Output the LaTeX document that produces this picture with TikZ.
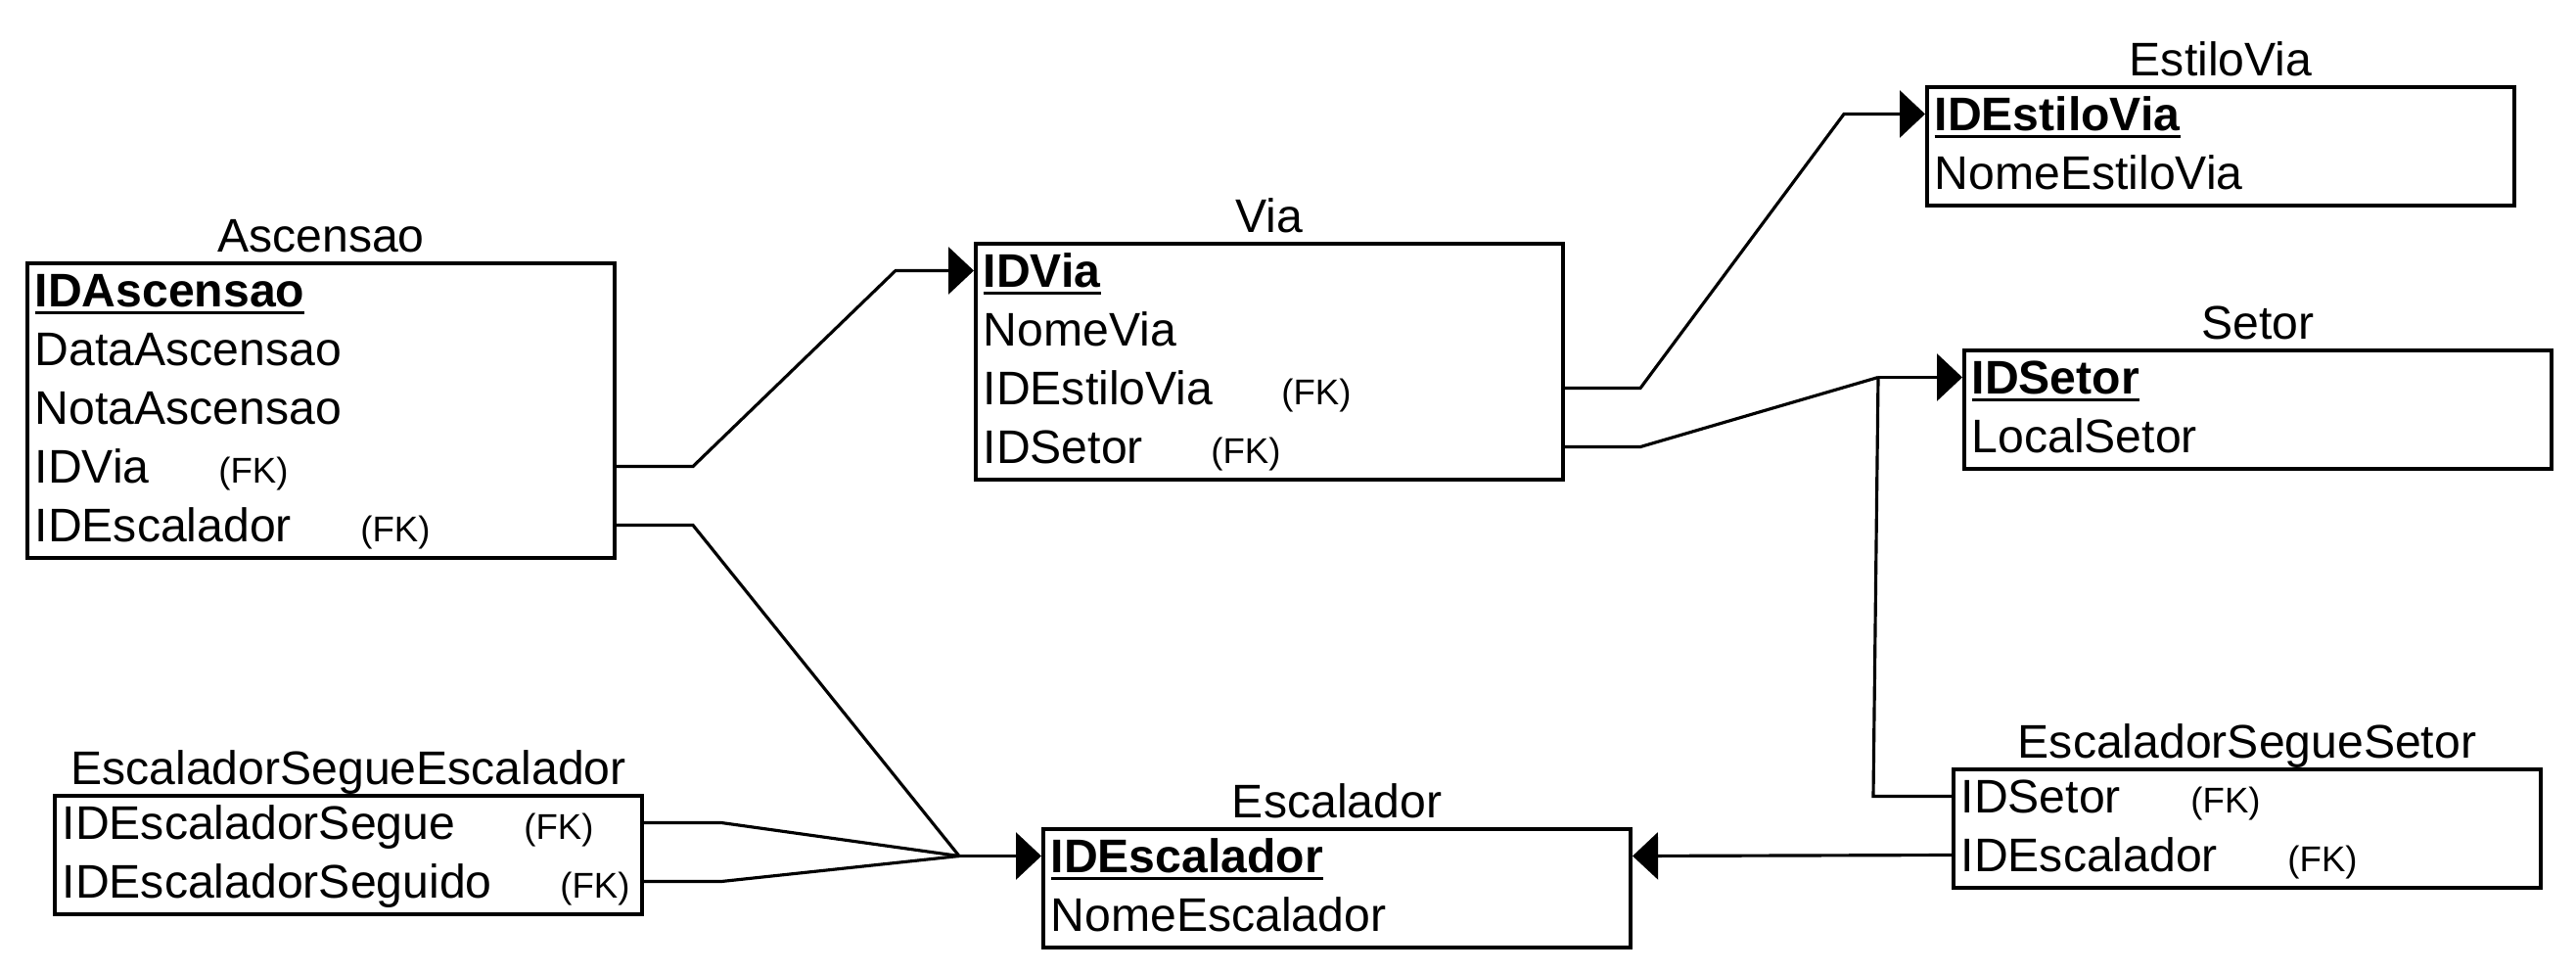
\documentclass[tikz,border=0pt]{standalone}
\usepackage{fontspec}
\setmainfont{Liberation Sans}
\usetikzlibrary{arrows.meta}

\tikzset{
  tbl/.style={draw,line width=1.15pt,anchor=north west,minimum width=6cm,inner sep=0pt},
  ttl/.style={anchor=base,inner sep=0pt,font=\fontsize{13.7}{16}\selectfont},
  fld/.style={anchor=base west,inner sep=0pt,text height=0.34cm,text depth=0cm,font=\fontsize{13.7}{16}\selectfont},
  fk/.style={anchor=base,inner sep=0pt,font=\fontsize{10.4}{12}\selectfont},
  rel/.style={line width=0.9pt},
  to1/.style={rel,-{Triangle[length=0.26cm,width=0.48cm]}}
}
% primary key: bold, underlined
\newcommand{\pkey}[1]{\sbox0{\textbf{#1}}\rlap{\rule[-2.1pt]{\wd0}{0.8pt}}\usebox0}

\begin{document}
\begin{tikzpicture}%[x=1.0cm,y=1.0cm]
\useasboundingbox (0.02,-0.015) rectangle (26.34,-9.945);
% Ascensao
\node[tbl,minimum height=3.01cm] (asc) at (0.28,-2.68) {};
\node[ttl] (ascT) at ([yshift=0.09cm]asc.north) {Ascensao};
\node[fld] (ascId) at (0.37,-3.15) {\pkey{IDAscensao}};
\node[fld] (ascData) at (0.37,-3.75) {DataAscensao};
\node[fld] (ascNota) at (0.37,-4.35) {NotaAscensao};
\node[fld] (ascVia) at (0.37,-4.95) {IDVia};
\node[fld] (ascEsc) at (0.37,-5.55) {IDEscalador};
\node[fk] (ascViaFk) at (2.61,-4.95) {(FK)};
\node[fk] (ascEscFk) at (4.06,-5.55) {(FK)};
% Via
\node[tbl,minimum height=2.41cm] (via) at (9.97,-2.48) {};
\node[ttl] (viaT) at ([yshift=0.09cm]via.north) {Via};
\node[fld] (viaId) at (10.06,-2.95) {\pkey{IDVia}};
\node[fld] (viaNome) at (10.06,-3.55) {NomeVia};
\node[fld] (viaEst) at (10.06,-4.15) {IDEstiloVia};
\node[fld] (viaSet) at (10.06,-4.75) {IDSetor};
\node[fk] (viaEstFk) at (13.47,-4.15) {(FK)};
\node[fk] (viaSetFk) at (12.75,-4.75) {(FK)};
% EstiloVia
\node[tbl,minimum height=1.21cm] (estilo) at (19.69,-0.88) {};
\node[ttl] (estiloT) at ([yshift=0.09cm]estilo.north) {EstiloVia};
\node[fld] (estiloId) at (19.78,-1.35) {\pkey{IDEstiloVia}};
\node[fld] (estiloNome) at (19.78,-1.95) {NomeEstiloVia};
% Setor
\node[tbl,minimum height=1.21cm] (setor) at (20.07,-3.57) {};
\node[ttl] (setorT) at ([yshift=0.09cm]setor.north) {Setor};
\node[fld] (setorId) at (20.16,-4.04) {\pkey{IDSetor}};
\node[fld] (setorLocal) at (20.16,-4.64) {LocalSetor};
% Escalador
\node[tbl,minimum height=1.21cm] (esc) at (10.66,-8.46) {};
\node[ttl] (escT) at ([yshift=0.09cm]esc.north) {Escalador};
\node[fld] (escId) at (10.75,-8.93) {\pkey{IDEscalador}};
\node[fld] (escNome) at (10.75,-9.53) {NomeEscalador};
% EscaladorSegueEscalador
\node[tbl,minimum height=1.21cm] (ese) at (0.56,-8.12) {};
\node[ttl] (eseT) at ([yshift=0.09cm]ese.north) {EscaladorSegueEscalador};
\node[fld] (eseA) at (0.65,-8.59) {IDEscaladorSegue};
\node[fld] (eseB) at (0.65,-9.19) {IDEscaladorSeguido};
\node[fk] (eseAFk) at (5.73,-8.59) {(FK)};
\node[fk] (eseBFk) at (6.10,-9.19) {(FK)};
% EscaladorSegueSetor
\node[tbl,minimum height=1.21cm] (ess) at (19.96,-7.85) {};
\node[ttl] (essT) at ([yshift=0.09cm]ess.north) {EscaladorSegueSetor};
\node[fld] (essSet) at (20.05,-8.32) {IDSetor};
\node[fld] (essEsc) at (20.05,-8.92) {IDEscalador};
\node[fk] (essSetFk) at (22.76,-8.32) {(FK)};
\node[fk] (essEscFk) at (23.75,-8.92) {(FK)};

% relations
\coordinate (jE) at ([xshift=-0.84cm]escId -| esc.west);
\coordinate (jS) at ([xshift=-0.86cm]setorId -| setor.west);
\draw[to1] (ascVia -| asc.east) -- ++(0.78,0) -- ([xshift=-0.8cm]viaId -| via.west) -- (viaId -| via.west);
\draw[rel] (ascEsc -| asc.east) -- ++(0.78,0) -- (jE);
\draw[rel] (eseA -| ese.east) -- ++(0.79,0) -- (jE);
\draw[rel] (eseB -| ese.east) -- ++(0.79,0) -- (jE);
\draw[to1] (jE) -- (escId -| esc.west);
\draw[to1] (viaEst -| via.east) -- ++(0.77,0) -- ([xshift=-0.83cm]estiloId -| estilo.west) -- (estiloId -| estilo.west);
\draw[rel] (viaSet -| via.east) -- ++(0.77,0) -- (jS);
\draw[rel] (essSet -| ess.west) -- ++(-0.8,0) -- (jS);
\draw[to1] (jS) -- (setorId -| setor.west);
\draw[to1] (essEsc -| ess.west) -- (escId -| esc.east);
\end{tikzpicture}
\end{document}
